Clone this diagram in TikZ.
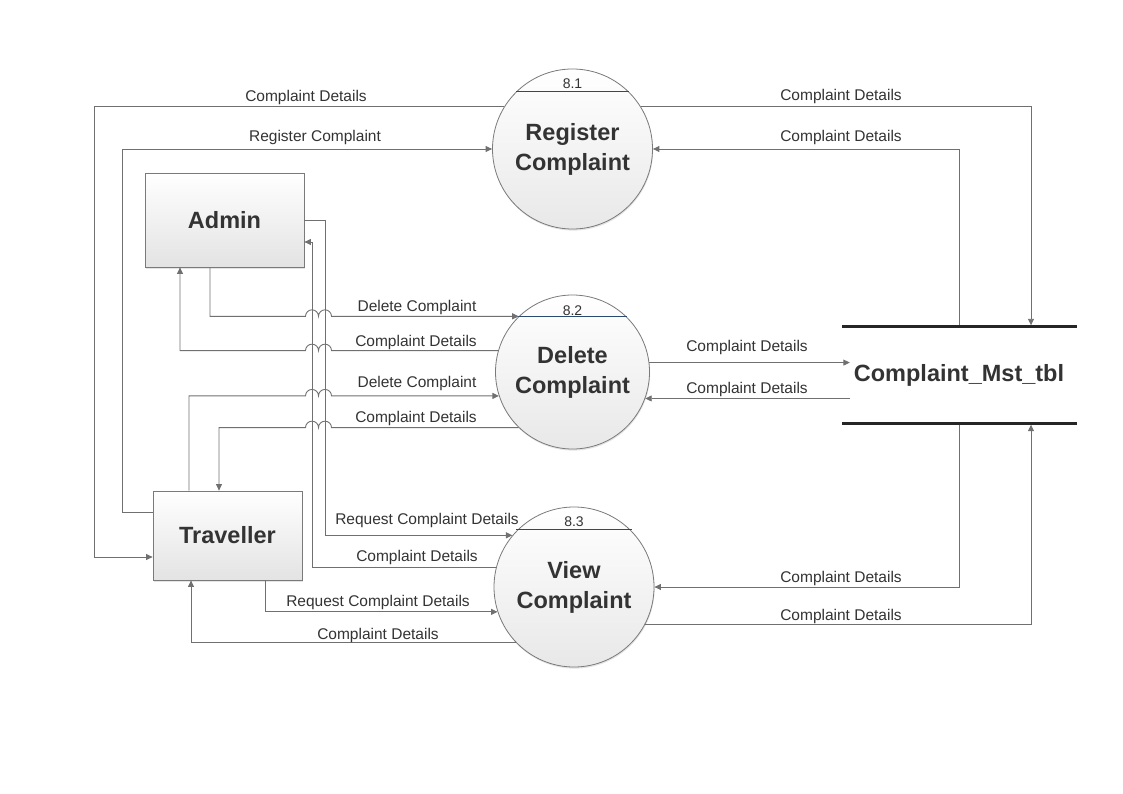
\documentclass[tikz,border=0pt]{standalone}
\usepackage{fontspec}
\setmainfont{Liberation Sans}
\usetikzlibrary{arrows.meta,calc,shadows}
\definecolor{linec}{HTML}{707070}
\definecolor{txtc}{HTML}{333333}
\definecolor{bordc}{HTML}{7A7A7A}
\definecolor{numc}{HTML}{2C4A6E}
\definecolor{storec}{HTML}{262626}
\begin{document}
\begin{tikzpicture}[x=1pt,y=-1pt,
  flow/.style={draw=linec, line width=0.9pt, -{Triangle[length=6.5pt,width=6pt]}},
  lbl/.style={font=\fontsize{15.5}{18}\selectfont, text=txtc, inner sep=0pt, yshift=-1.5pt},
  numlbl/.style={font=\fontsize{14}{16}\selectfont, text=txtc, inner sep=0pt, yshift=-1pt},
  numline/.style={draw=numc, line width=0.7pt},
  procc/.style={circle, draw=bordc, line width=0.8pt, top color=white, bottom color=black!9,
    drop shadow={shadow xshift=0.6pt, shadow yshift=-1.6pt, fill=black!30, opacity=0.35},
    minimum size=#1, inner sep=0pt, align=center,
    font=\fontsize{23.5}{30}\selectfont\bfseries, text=txtc},
  entity/.style={rectangle, draw=bordc, line width=0.8pt, top color=white, bottom color=black!11,
    drop shadow={shadow xshift=0.6pt, shadow yshift=-1.6pt, fill=black!30, opacity=0.35},
    inner sep=0pt, font=\fontsize{23.5}{30}\selectfont\bfseries, text=txtc},
  storetxt/.style={rectangle, inner sep=0pt, minimum width=218pt, minimum height=96pt,
    font=\fontsize{23.5}{30}\selectfont\bfseries, text=txtc},
  storeline/.style={draw=storec, line width=3pt}
]
\useasboundingbox (0,0) rectangle (1123,794);

% entities
\node[entity, minimum width=159pt, minimum height=94pt] (admin) at (224.5,220) {\raisebox{-1.5pt}{Admin}};
\node[entity, minimum width=149pt, minimum height=89pt] (trav) at (227.5,535.5) {\raisebox{-1pt}{Traveller}};

% processes
\node[procc=160pt] (reg) at (572.5,149) {Register\\Complaint};
\node[procc=154pt] (del) at (572.5,372) {Delete\\Complaint};
\node[procc=160pt] (view) at (574,587) {View\\Complaint};

\draw[numline] ($(reg.center)+(-56.5,-58)$) -- ($(reg.center)+(56.5,-58)$);
\node[numlbl] (n1) at ($(reg.center)+(0,-66)$) {8.1};
\draw[numline] ($(del.center)+(-55,-56)$) -- ($(del.center)+(54,-56)$);
\node[numlbl] (n2) at ($(del.center)+(0,-62)$) {8.2};
\draw[numline] ($(view.center)+(-58,-58)$) -- ($(view.center)+(58,-58)$);
\node[numlbl] (n3) at ($(view.center)+(0,-66)$) {8.3};

% data store
\node[storetxt] (store) at (959,375) {\raisebox{-2pt}{Complaint\_Mst\_tbl}};

% Register Complaint flows
\draw[flow] (reg.148) -| (94,557) -- (trav.west |- 0,557);
\draw[flow] (trav.west |- 0,512) -| (122,0 |- reg.west) -- (reg.west);
\draw[flow, shorten >=1.5pt] (reg.32) -| (store.north -| 1031,0);
\draw[flow, shorten <=1.5pt] (store.north -| 959,0) |- (reg.east);

% Delete Complaint flows (with hops)
\draw[flow] (admin.south -| 210,0) |- (305.5,0 |- del.134)
  arc[start angle=180,end angle=0,radius=6.5pt]
  arc[start angle=180,end angle=0,radius=6.5pt] -- (del.134);
\draw[flow] (del.164) -- (331.5,0 |- del.164)
  arc[start angle=0,end angle=180,radius=6.5pt]
  arc[start angle=0,end angle=180,radius=6.5pt] -| (admin.south -| 180,0);
\draw[flow] (trav.north -| 189,0) |- (305.5,0 |- del.198)
  arc[start angle=180,end angle=0,radius=6.5pt]
  arc[start angle=180,end angle=0,radius=6.5pt] -- (del.198);
\draw[flow] (del.226) -- (331.5,0 |- del.226)
  arc[start angle=0,end angle=180,radius=6.5pt]
  arc[start angle=0,end angle=180,radius=6.5pt] -| (trav.north -| 219,0);
\draw[flow] (del.7) -- (store.west |- del.7);
\draw[flow] (store.west |- del.340) -- (del.340);

% View Complaint flows
\draw[flow] (admin.east) -| (325,0 |- view.140) -- (view.140);
\draw[flow] (view.166) -| (312,242) -- (admin.east |- 0,242);
\draw[flow] (trav.south -| 265,0) |- (view.198);
\draw[flow] (view.224) -| (trav.south -| 191,0);
\draw[flow, shorten <=1.5pt] (store.south -| 959,0) |- (view.east);
\draw[flow, shorten >=1.5pt] (view.332) -| (store.south -| 1031,0);

% store lines
\draw[storeline] ($(store.north west)+(-8,0)$) -- ($(store.north east)+(9,0)$);
\draw[storeline] ($(store.south west)+(-8,0)$) -- ($(store.south east)+(9,0)$);

% labels
\node[lbl] (l1) at (306,96) {Complaint Details};
\node[lbl] (l2) at (315,136) {Register Complaint};
\node[lbl] (l3) at (841,95) {Complaint Details};
\node[lbl] (l4) at (841,136) {Complaint Details};
\node[lbl] (l5) at (417,306) {Delete Complaint};
\node[lbl] (l6) at (416,341) {Complaint Details};
\node[lbl] (l7) at (417,382) {Delete Complaint};
\node[lbl] (l8) at (416,417) {Complaint Details};
\node[lbl] (l9) at (747,346) {Complaint Details};
\node[lbl] (l10) at (747,388) {Complaint Details};
\node[lbl] (l11) at (427,519) {Request Complaint Details};
\node[lbl] (l12) at (417,556) {Complaint Details};
\node[lbl] (l13) at (378,601) {Request Complaint Details};
\node[lbl] (l14) at (378,634) {Complaint Details};
\node[lbl] (l15) at (841,577) {Complaint Details};
\node[lbl] (l16) at (841,615) {Complaint Details};
\end{tikzpicture}
\end{document}
